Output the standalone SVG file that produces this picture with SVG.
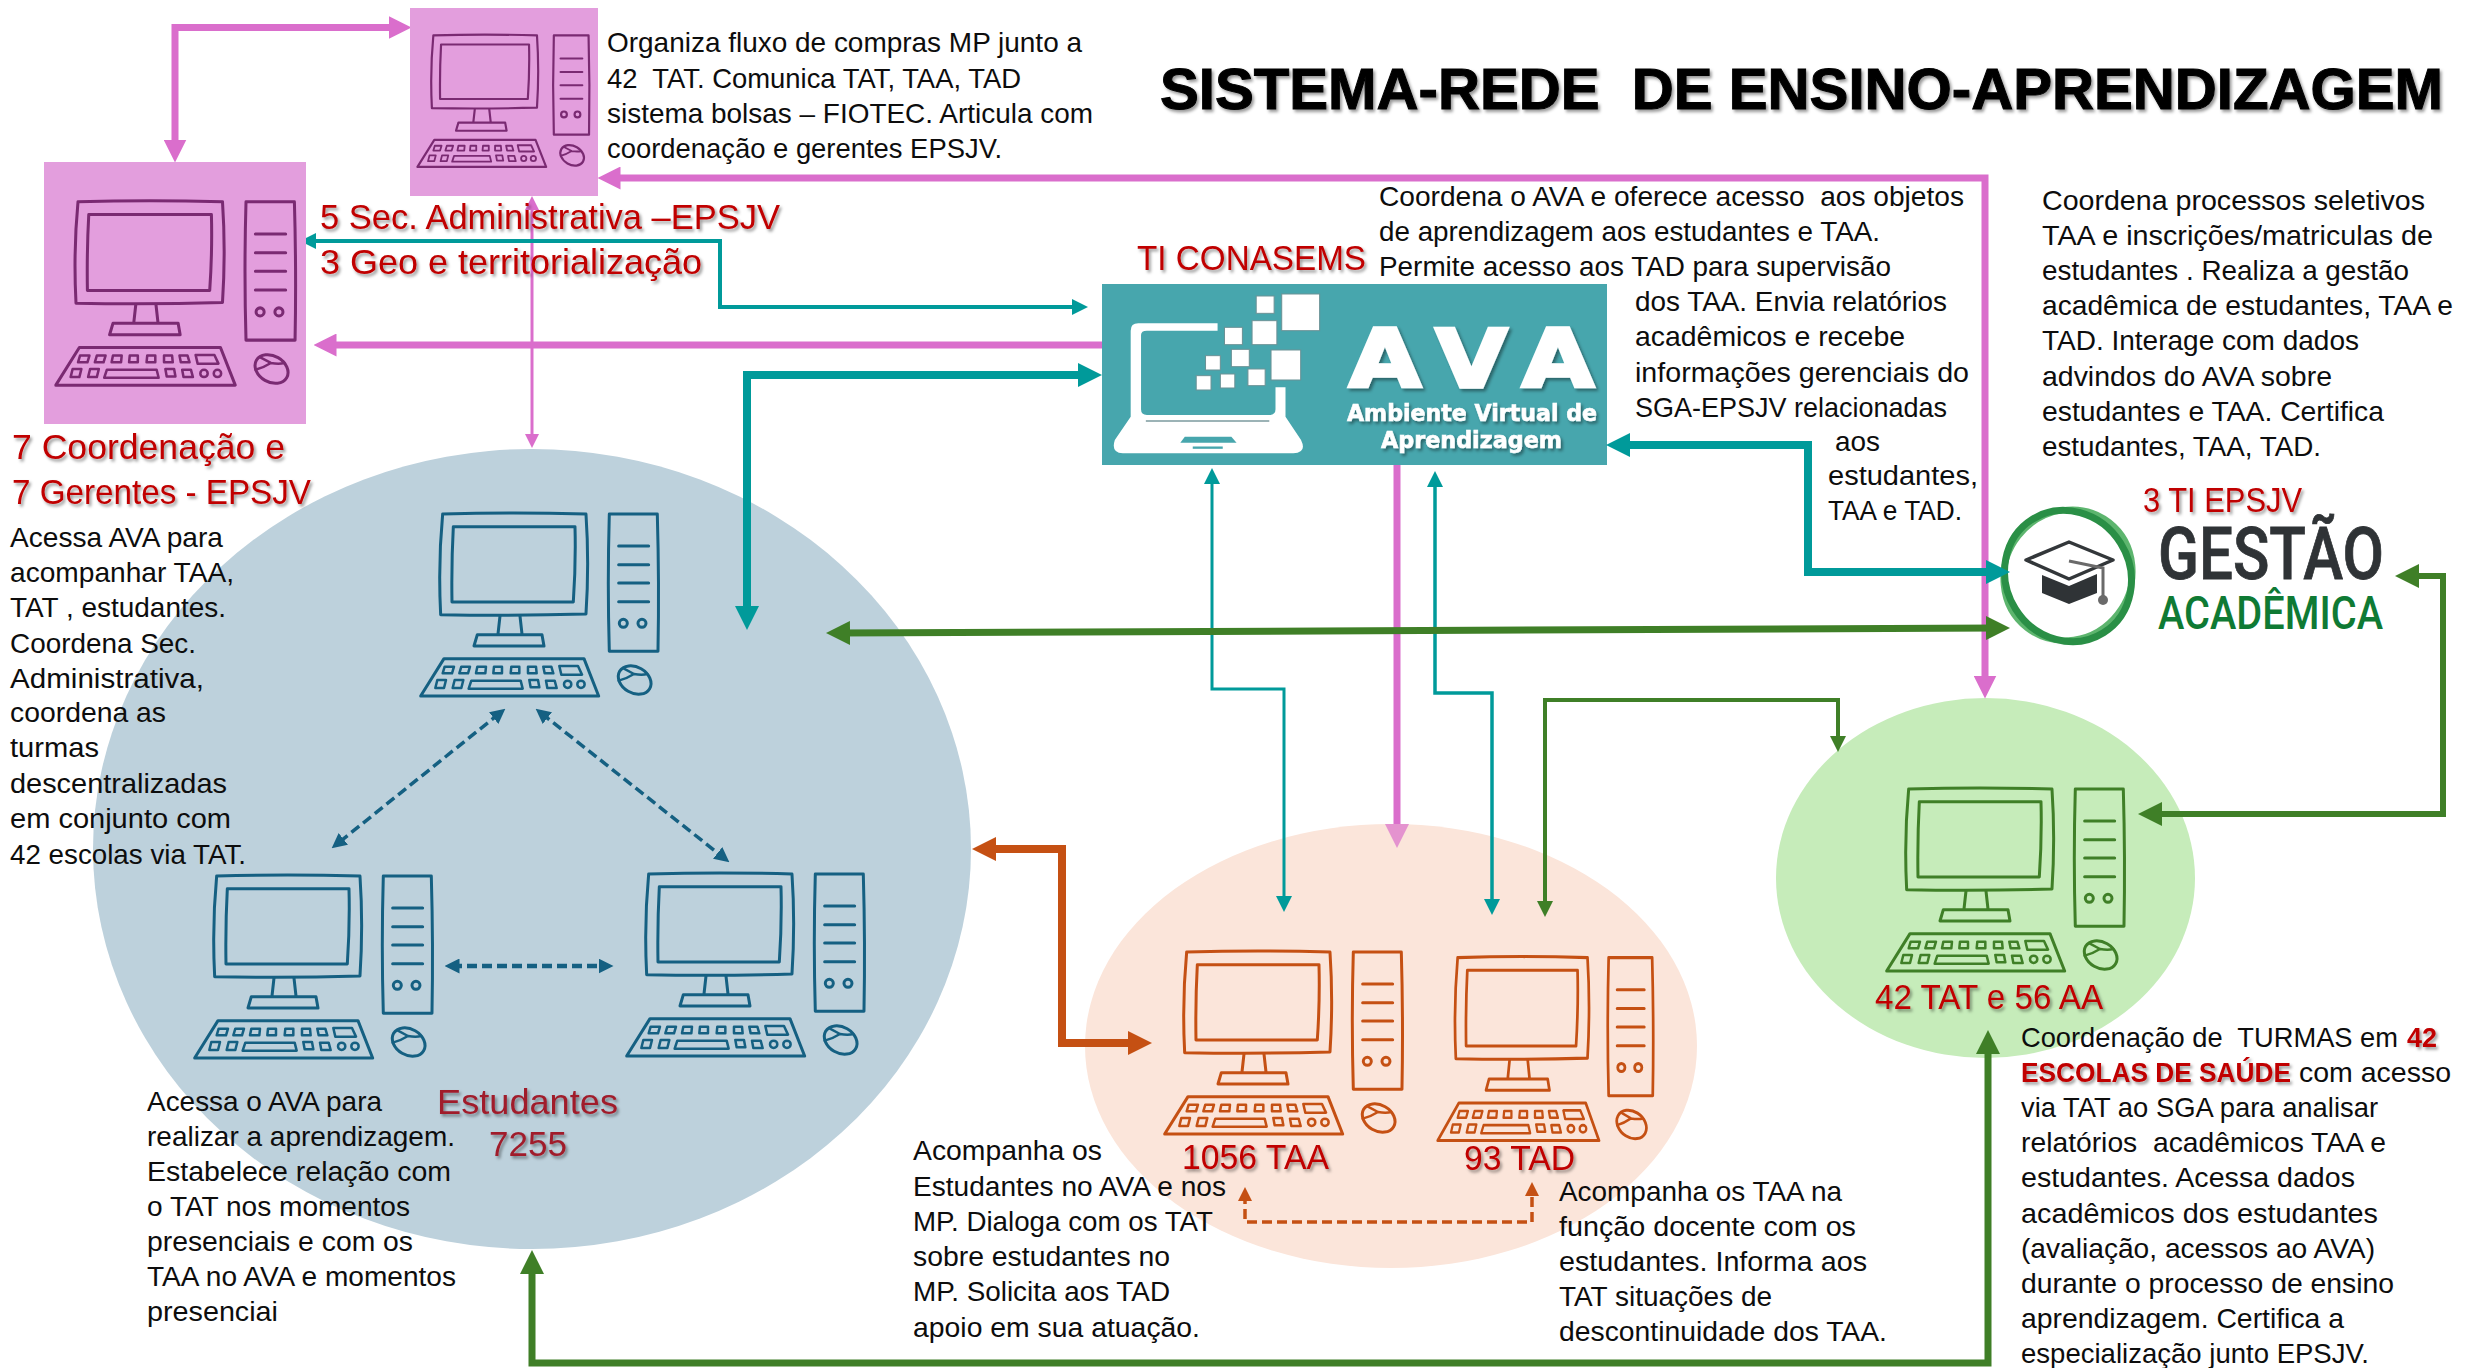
<svg xmlns="http://www.w3.org/2000/svg" xmlns:xlink="http://www.w3.org/1999/xlink" width="2473" height="1368" viewBox="0 0 2473 1368">
<style>
text{white-space:pre}
.t{font:27.500px "Liberation Sans",Arial,sans-serif;fill:#0d0d0d}
.r{font:35px "Liberation Sans",Arial,sans-serif;fill:#C00000;filter:url(#sh)}
.rb{font:bold 27.500px "Liberation Sans",Arial,sans-serif;fill:#C00000;filter:url(#sh)}
.dr{font:35px "Liberation Sans",Arial,sans-serif;fill:#A01C2C;filter:url(#sh)}
.title{font:bold 57px "Liberation Sans",Arial,sans-serif;fill:#000;stroke:#000;stroke-width:1;filter:url(#sh)}
.ln{fill:none;stroke-linejoin:miter}
.pink{stroke:#DA6ECC}.teal{stroke:#009A9A}.green{stroke:#3F7F27}.orange{stroke:#C55013}.blue{stroke:#156082}
.sq{fill:#fff;stroke:#6b9296;stroke-width:3}
.wh{fill:#fff;stroke:#fff;filter:url(#sh)}
.pc{fill:none;stroke:currentColor;stroke-width:9;stroke-linejoin:round;stroke-linecap:round}
.pc .k{stroke-width:7.500}
</style>
<defs>
<filter id="sh" x="-10%" y="-20%" width="120%" height="150%"><feDropShadow dx="2" dy="2.5" stdDeviation="1.6" flood-color="#000" flood-opacity=".4"/></filter>
<filter id="rs" x="-20%" y="-20%" width="140%" height="140%"><feDropShadow dx="0" dy="1" stdDeviation="2.500" flood-color="#000" flood-opacity=".3"/></filter>
<marker id="pL" viewBox="0 0 24 24" markerUnits="userSpaceOnUse" markerWidth="23" markerHeight="23" refX="12" refY="12" orient="auto-start-reverse"><path d="M0 0L24 12L0 24Z" fill="#DA6ECC"/></marker>
<marker id="pX" viewBox="0 0 24 24" markerUnits="userSpaceOnUse" markerWidth="24" markerHeight="24" refX="12" refY="12" orient="auto-start-reverse"><path d="M0 0L24 12L0 24Z" fill="#E493CF"/></marker>
<marker id="pS" viewBox="0 0 24 24" markerUnits="userSpaceOnUse" markerWidth="14" markerHeight="14" refX="12" refY="12" orient="auto-start-reverse"><path d="M0 0L24 12L0 24Z" fill="#DA6ECC"/></marker>
<marker id="tL" viewBox="0 0 24 24" markerUnits="userSpaceOnUse" markerWidth="24" markerHeight="24" refX="12" refY="12" orient="auto-start-reverse"><path d="M0 0L24 12L0 24Z" fill="#009A9A"/></marker>
<marker id="tS" viewBox="0 0 24 24" markerUnits="userSpaceOnUse" markerWidth="16" markerHeight="16" refX="12" refY="12" orient="auto-start-reverse"><path d="M0 0L24 12L0 24Z" fill="#009A9A"/></marker>
<marker id="gL" viewBox="0 0 24 24" markerUnits="userSpaceOnUse" markerWidth="24" markerHeight="24" refX="12" refY="12" orient="auto-start-reverse"><path d="M0 0L24 12L0 24Z" fill="#3F7F27"/></marker>
<marker id="gS" viewBox="0 0 24 24" markerUnits="userSpaceOnUse" markerWidth="16" markerHeight="16" refX="12" refY="12" orient="auto-start-reverse"><path d="M0 0L24 12L0 24Z" fill="#3F7F27"/></marker>
<marker id="oL" viewBox="0 0 24 24" markerUnits="userSpaceOnUse" markerWidth="24" markerHeight="24" refX="12" refY="12" orient="auto-start-reverse"><path d="M0 0L24 12L0 24Z" fill="#C55013"/></marker>
<marker id="oS" viewBox="0 0 24 24" markerUnits="userSpaceOnUse" markerWidth="14" markerHeight="14" refX="12" refY="12" orient="auto-start-reverse"><path d="M0 0L24 12L0 24Z" fill="#C55013"/></marker>
<marker id="bS" viewBox="0 0 24 24" markerUnits="userSpaceOnUse" markerWidth="15" markerHeight="15" refX="12" refY="12" orient="auto-start-reverse"><path d="M0 0L24 12L0 24Z" fill="#156082"/></marker>
<symbol id="pc" viewBox="0 0 900 660" width="900" height="660" overflow="visible">
<g class="pc">
<path d="M128 72Q340 66 558 72Q568 220 558 372Q340 378 122 374Q114 220 128 72Z"/>
<path d="M160 110H525Q528 220 520 336H156Q154 220 160 110Z"/>
<path d="M300 378L294 432M360 378L366 432M232 434H426L432 468H222Z"/>
<path d="M628 72H772Q778 280 774 484H628Q622 280 628 72Z"/>
<path d="M656 168H746M656 224H746M656 279H746M656 335H746"/>
<circle cx="670" cy="400" r="12"/><circle cx="726" cy="400" r="12"/>
<ellipse cx="704" cy="570" rx="52" ry="39" transform="rotate(30 704 570)"/>
<path class="k" d="M656 572Q680 566 702 552M672 536L702 552Q726 556 742 552"/>
<path d="M132 506H552L596 618H62Z"/>
<path class="k" d="M134 530H162L156 550H128ZM184 530H210L204 550H178ZM232 530H258L256 550H228ZM282 530H306L306 550H280ZM334 530H358L358 550H332ZM384 530H408L410 550H384ZM430 530H454L460 550H434ZM478 528H534L546 554H484ZM112 570H138L132 594H106ZM164 570H190L184 594H158ZM214 572H362L368 596H206ZM388 570H414L418 592H392ZM438 572H464L470 594H442Z"/>
<circle class="k" cx="503" cy="583" r="11"/><circle class="k" cx="543" cy="583" r="11"/>
</g>
</symbol>
</defs>
<rect width="2473" height="1368" fill="#fff"/>

<g id="node-estudantes">
<ellipse cx="532" cy="849" rx="439" ry="400" fill="#BDD1DC"/>
<g color="#156082">
<use xlink:href="#pc" href="#pc" transform="translate(400 490) scale(.3333)"/>
<use xlink:href="#pc" href="#pc" transform="translate(174 852) scale(.3333)"/>
<use xlink:href="#pc" href="#pc" transform="translate(606 850) scale(.3333)"/>
</g>
<text class="dr" x="437" y="1114" textLength="181" lengthAdjust="spacingAndGlyphs">Estudantes</text>
<text class="dr" x="489" y="1156" textLength="78" lengthAdjust="spacingAndGlyphs">7255</text>
</g>

<g id="node-taa-tad">
<ellipse cx="1391" cy="1046" rx="306" ry="222" fill="#FBE5DA"/>
<g color="#C55013">
<use xlink:href="#pc" href="#pc" transform="translate(1144 928) scale(.3333)"/>
<use xlink:href="#pc" href="#pc" transform="translate(1419 933.500) scale(.302 .335)"/>
</g>
<text class="r" x="1182" y="1169" textLength="147" lengthAdjust="spacingAndGlyphs">1056 TAA</text>
<text class="r" x="1464" y="1170" textLength="111" lengthAdjust="spacingAndGlyphs">93 TAD</text>
</g>

<g id="node-tat">
<ellipse cx="1985.500" cy="878" rx="209.500" ry="180" fill="#C6ECBA"/>
<use xlink:href="#pc" href="#pc" color="#3F7F27" transform="translate(1866 765) scale(.3333)"/>
<text class="r" x="1875" y="1009" textLength="228" lengthAdjust="spacingAndGlyphs">42 TAT e 56 AA</text>
</g>

<g id="node-ava">
<text class="r" x="1137" y="270" textLength="229" lengthAdjust="spacingAndGlyphs">TI CONASEMS</text>
<rect x="1102" y="284" width="505" height="181" fill="#47A6AD"/>
<g transform="translate(1090 270) scale(.3448 .3333)">
<path d="M370 160H140Q118 160 118 182V440L72 510Q60 548 95 550H590Q630 548 612 510L567 440V352H538V418Q538 435 520 435H165Q148 435 148 418V195Q148 182 165 182H370Z" fill="#fff"/>
<path d="M162 453H520" stroke="#7b9a9e" stroke-width="5" fill="none"/>
<path d="M275 500H410L425 518H262Z" fill="#47A6AD"/>
<path d="M298 533H385" stroke="#47A6AD" stroke-width="7" fill="none"/>
<rect class="sq" x="556" y="72" width="110" height="110"/>
<rect class="sq" x="482" y="78" width="52" height="52"/>
<rect class="sq" x="470" y="152" width="72" height="72"/>
<rect class="sq" x="390" y="172" width="52" height="52"/>
<rect class="sq" x="525" y="240" width="86" height="90"/>
<rect class="sq" x="410" y="238" width="52" height="52"/>
<rect class="sq" x="335" y="257" width="43" height="43"/>
<rect class="sq" x="458" y="297" width="50" height="50"/>
<rect class="sq" x="378" y="312" width="42" height="42"/>
<rect class="sq" x="308" y="317" width="43" height="43"/>
</g>
<text class="wh" transform="translate(1349 387) scale(1.16 1)" textLength="211" lengthAdjust="spacing" stroke-width="3.500" style="font:bold 80px 'DejaVu Sans',sans-serif">AVA</text>
<text class="wh" x="1347" y="421" textLength="250" lengthAdjust="spacingAndGlyphs" stroke-width=".6" style="font:bold 23px 'DejaVu Sans',sans-serif">Ambiente Virtual de</text>
<text class="wh" x="1381" y="448" textLength="181" lengthAdjust="spacingAndGlyphs" stroke-width=".6" style="font:bold 23px 'DejaVu Sans',sans-serif">Aprendizagem</text>
</g>

<g id="node-gestao">
<text class="r" x="2143" y="512" textLength="159" lengthAdjust="spacingAndGlyphs">3 TI EPSJV</text>
<ellipse cx="2068" cy="576" rx="63" ry="64" fill="#fff" filter="url(#rs)"/>
<ellipse cx="2068" cy="575" rx="63" ry="67" fill="none" stroke="#5DB56E" stroke-width="6" transform="rotate(38 2068 575)"/>
<ellipse cx="2068" cy="576" rx="62" ry="67" fill="none" stroke="#2A8F46" stroke-width="7" transform="rotate(-32 2068 576)"/>
<path d="M2026 560L2069 542L2113 560L2069 579Z" fill="#fff" stroke="#33373a" stroke-width="3.500" stroke-linejoin="round"/>
<path d="M2042 575L2069 586L2097 574V593L2069 604L2042 593Z" fill="#2f3336"/>
<path d="M2069 561L2103 568V600" fill="none" stroke="#6a6a6a" stroke-width="3"/>
<circle cx="2103" cy="600" r="5" fill="#6a6a6a"/>
<text x="2158" y="579" textLength="226" lengthAdjust="spacingAndGlyphs" style="font:500 73px Roboto,sans-serif;fill:#2F3336;stroke:#2F3336;stroke-width:.8">GESTÃO</text>
<text x="2158" y="629" textLength="225" lengthAdjust="spacingAndGlyphs" style="font:500 46px Roboto,sans-serif;fill:#0F7A34">ACADÊMICA</text>
</g>

<g id="connectors" class="ln">
<path class="ln pink" stroke-width="7" d="M175 151V27.500H400" marker-start="url(#pL)" marker-end="url(#pL)"/>
<path class="ln pink" stroke-width="7" d="M609 178H1985V687" marker-start="url(#pL)" marker-end="url(#pL)"/>
<path class="ln pink" stroke-width="3" d="M532 203V441" marker-start="url(#pS)" marker-end="url(#pS)"/>
<path class="ln pink" stroke-width="7" d="M1102 345H325" marker-end="url(#pL)"/>
<path class="ln pink" stroke-width="7" d="M1397 465V836" marker-end="url(#pX)"/>
<path class="ln teal" stroke-width="4" d="M308 241H720V307H1080" marker-start="url(#tS)" marker-end="url(#tS)"/>
<path class="ln teal" stroke-width="8" d="M1090 375H747V618" marker-end="url(#tL)" marker-start="url(#tL)"/>
<path class="ln teal" stroke-width="3" d="M1212 476V689H1284V904" marker-start="url(#tS)" marker-end="url(#tS)"/>
<path class="ln teal" stroke-width="3.500" d="M1435 479V693H1492V907" marker-start="url(#tS)" marker-end="url(#tS)"/>
<path class="ln teal" stroke-width="8" d="M1618 445H1808V572H1998" marker-start="url(#tL)" marker-end="url(#tL)"/>
<path class="ln green" stroke-width="4" d="M1545 909V700H1838V744" marker-start="url(#gS)" marker-end="url(#gS)"/>
<path class="ln green" stroke-width="7" d="M838 633L1998 628" marker-start="url(#gL)" marker-end="url(#gL)"/>
<path class="ln green" stroke-width="6" d="M2407 576H2443V814H2150" marker-start="url(#gL)" marker-end="url(#gL)"/>
<path class="ln green" stroke-width="7" d="M532 1262V1363H1988V1042" marker-start="url(#gL)" marker-end="url(#gL)"/>
<path class="ln orange" stroke-width="8" d="M984 849H1062V1043H1140" marker-start="url(#oL)" marker-end="url(#oL)"/>
<path class="ln orange" stroke-width="3.500" stroke-dasharray="10 5" d="M1245 1194V1222H1532V1189" marker-start="url(#oS)" marker-end="url(#oS)"/>
<path class="ln blue" stroke-width="3.500" stroke-dasharray="10 5" d="M499.500 713.400L337.500 843.600" marker-start="url(#bS)" marker-end="url(#bS)"/>
<path class="ln blue" stroke-width="3.500" stroke-dasharray="10 5" d="M541.500 713.400L723.500 857.600" marker-start="url(#bS)" marker-end="url(#bS)"/>
<path class="ln blue" stroke-width="4.500" stroke-dasharray="10 5" d="M452 966H606" marker-start="url(#bS)" marker-end="url(#bS)"/>
</g>

<g id="node-sec-adm">
<rect x="410" y="8" width="188" height="188" fill="#E39EDD"/>
<use xlink:href="#pc" href="#pc" color="#7A2A72" transform="translate(402.500 18) scale(.241)"/>
<text class="t" x="607" y="52" textLength="475" lengthAdjust="spacingAndGlyphs">Organiza fluxo de compras MP junto a</text>
<text class="t" x="607" y="88" textLength="414" lengthAdjust="spacingAndGlyphs">42  TAT. Comunica TAT, TAA, TAD</text>
<text class="t" x="607" y="123" textLength="486" lengthAdjust="spacingAndGlyphs">sistema bolsas – FIOTEC. Articula com</text>
<text class="t" x="607" y="158" textLength="395" lengthAdjust="spacingAndGlyphs">coordenação e gerentes EPSJV.</text>
</g>

<g id="node-coordenacao">
<rect x="44" y="162" width="262" height="262" fill="#E39EDD"/>
<use xlink:href="#pc" href="#pc" color="#7A2A72" transform="translate(35 177.500) scale(.336)"/>
<text class="r" x="320" y="229" textLength="460" lengthAdjust="spacingAndGlyphs">5 Sec. Administrativa –EPSJV</text>
<text class="r" x="320" y="274" textLength="382" lengthAdjust="spacingAndGlyphs">3 Geo e territorialização</text>
<text class="r" x="12" y="459" textLength="273" lengthAdjust="spacingAndGlyphs">7 Coordenação e</text>
<text class="r" x="12" y="504" textLength="299" lengthAdjust="spacingAndGlyphs">7 Gerentes - EPSJV</text>
</g>

<g id="annotations">
<text class="title" x="1160" y="109" textLength="1283" lengthAdjust="spacingAndGlyphs">SISTEMA-REDE  DE ENSINO-APRENDIZAGEM</text>

<text class="t" x="10" y="547" textLength="213" lengthAdjust="spacingAndGlyphs">Acessa AVA para</text>
<text class="t" x="10" y="582" textLength="224" lengthAdjust="spacingAndGlyphs">acompanhar TAA,</text>
<text class="t" x="10" y="617" textLength="216" lengthAdjust="spacingAndGlyphs">TAT , estudantes.</text>
<text class="t" x="10" y="653" textLength="186" lengthAdjust="spacingAndGlyphs">Coordena Sec.</text>
<text class="t" x="10" y="688" textLength="194" lengthAdjust="spacingAndGlyphs">Administrativa,</text>
<text class="t" x="10" y="722" textLength="156" lengthAdjust="spacingAndGlyphs">coordena as</text>
<text class="t" x="10" y="757" textLength="89" lengthAdjust="spacingAndGlyphs">turmas</text>
<text class="t" x="10" y="793" textLength="217" lengthAdjust="spacingAndGlyphs">descentralizadas</text>
<text class="t" x="10" y="828" textLength="221" lengthAdjust="spacingAndGlyphs">em conjunto com</text>
<text class="t" x="10" y="864" textLength="236" lengthAdjust="spacingAndGlyphs">42 escolas via TAT.</text>

<text class="t" x="147" y="1111" textLength="235" lengthAdjust="spacingAndGlyphs">Acessa o AVA para</text>
<text class="t" x="147" y="1146" textLength="308" lengthAdjust="spacingAndGlyphs">realizar a aprendizagem.</text>
<text class="t" x="147" y="1181" textLength="304" lengthAdjust="spacingAndGlyphs">Estabelece relação com</text>
<text class="t" x="147" y="1216" textLength="263" lengthAdjust="spacingAndGlyphs">o TAT nos momentos</text>
<text class="t" x="147" y="1251" textLength="266" lengthAdjust="spacingAndGlyphs">presenciais e com os</text>
<text class="t" x="147" y="1286" textLength="309" lengthAdjust="spacingAndGlyphs">TAA no AVA e momentos</text>
<text class="t" x="147" y="1321" textLength="131" lengthAdjust="spacingAndGlyphs">presenciai</text>

<text class="t" x="913" y="1160" textLength="189" lengthAdjust="spacingAndGlyphs">Acompanha os</text>
<text class="t" x="913" y="1196" textLength="313" lengthAdjust="spacingAndGlyphs">Estudantes no AVA e nos</text>
<text class="t" x="913" y="1231" textLength="300" lengthAdjust="spacingAndGlyphs">MP. Dialoga com os TAT</text>
<text class="t" x="913" y="1266" textLength="257" lengthAdjust="spacingAndGlyphs">sobre estudantes no</text>
<text class="t" x="913" y="1301" textLength="257" lengthAdjust="spacingAndGlyphs">MP. Solicita aos TAD</text>
<text class="t" x="913" y="1337" textLength="287" lengthAdjust="spacingAndGlyphs">apoio em sua atuação.</text>

<text class="t" x="1559" y="1201" textLength="283" lengthAdjust="spacingAndGlyphs">Acompanha os TAA na</text>
<text class="t" x="1559" y="1236" textLength="297" lengthAdjust="spacingAndGlyphs">função docente com os</text>
<text class="t" x="1559" y="1271" textLength="308" lengthAdjust="spacingAndGlyphs">estudantes. Informa aos</text>
<text class="t" x="1559" y="1306" textLength="213" lengthAdjust="spacingAndGlyphs">TAT situações de</text>
<text class="t" x="1559" y="1341" textLength="328" lengthAdjust="spacingAndGlyphs">descontinuidade dos TAA.</text>

<text class="t" x="2021" y="1047" textLength="377" lengthAdjust="spacingAndGlyphs">Coordenação de  TURMAS em</text>
<text class="rb" x="2407" y="1047" textLength="30" lengthAdjust="spacingAndGlyphs">42</text>
<text class="rb" x="2021" y="1082" textLength="270" lengthAdjust="spacingAndGlyphs">ESCOLAS DE SAÚDE</text>
<text class="t" x="2299" y="1082" textLength="152" lengthAdjust="spacingAndGlyphs">com acesso</text>
<text class="t" x="2021" y="1117" textLength="357" lengthAdjust="spacingAndGlyphs">via TAT ao SGA para analisar</text>
<text class="t" x="2021" y="1152" textLength="365" lengthAdjust="spacingAndGlyphs">relatórios  acadêmicos TAA e</text>
<text class="t" x="2021" y="1187" textLength="334" lengthAdjust="spacingAndGlyphs">estudantes. Acessa dados</text>
<text class="t" x="2021" y="1223" textLength="357" lengthAdjust="spacingAndGlyphs">acadêmicos dos estudantes</text>
<text class="t" x="2021" y="1258" textLength="354" lengthAdjust="spacingAndGlyphs">(avaliação, acessos ao AVA)</text>
<text class="t" x="2021" y="1293" textLength="373" lengthAdjust="spacingAndGlyphs">durante o processo de ensino</text>
<text class="t" x="2021" y="1328" textLength="323" lengthAdjust="spacingAndGlyphs">aprendizagem. Certifica a</text>
<text class="t" x="2021" y="1363" textLength="348" lengthAdjust="spacingAndGlyphs">especialização junto EPSJV.</text>

<text class="t" x="1379" y="206" textLength="585" lengthAdjust="spacingAndGlyphs">Coordena o AVA e oferece acesso  aos objetos</text>
<text class="t" x="1379" y="241" textLength="501" lengthAdjust="spacingAndGlyphs">de aprendizagem aos estudantes e TAA.</text>
<text class="t" x="1379" y="276" textLength="512" lengthAdjust="spacingAndGlyphs">Permite acesso aos TAD para supervisão</text>
<text class="t" x="1635" y="311" textLength="312" lengthAdjust="spacingAndGlyphs">dos TAA. Envia relatórios</text>
<text class="t" x="1635" y="346" textLength="270" lengthAdjust="spacingAndGlyphs">acadêmicos e recebe</text>
<text class="t" x="1635" y="382" textLength="334" lengthAdjust="spacingAndGlyphs">informações gerenciais do</text>
<text class="t" x="1635" y="417" textLength="312" lengthAdjust="spacingAndGlyphs">SGA-EPSJV relacionadas</text>
<text class="t" x="1835" y="451" textLength="45" lengthAdjust="spacingAndGlyphs">aos</text>
<text class="t" x="1828" y="485" textLength="150" lengthAdjust="spacingAndGlyphs">estudantes,</text>
<text class="t" x="1828" y="520" textLength="134" lengthAdjust="spacingAndGlyphs">TAA e TAD.</text>

<text class="t" x="2042" y="210" textLength="383" lengthAdjust="spacingAndGlyphs">Coordena processos seletivos</text>
<text class="t" x="2042" y="245" textLength="391" lengthAdjust="spacingAndGlyphs">TAA e inscrições/matriculas de</text>
<text class="t" x="2042" y="280" textLength="367" lengthAdjust="spacingAndGlyphs">estudantes . Realiza a gestão</text>
<text class="t" x="2042" y="315" textLength="411" lengthAdjust="spacingAndGlyphs">acadêmica de estudantes, TAA e</text>
<text class="t" x="2042" y="350" textLength="317" lengthAdjust="spacingAndGlyphs">TAD. Interage com dados</text>
<text class="t" x="2042" y="386" textLength="290" lengthAdjust="spacingAndGlyphs">advindos do AVA sobre</text>
<text class="t" x="2042" y="421" textLength="342" lengthAdjust="spacingAndGlyphs">estudantes e TAA. Certifica</text>
<text class="t" x="2042" y="456" textLength="279" lengthAdjust="spacingAndGlyphs">estudantes, TAA, TAD.</text>
</g>
</svg>
